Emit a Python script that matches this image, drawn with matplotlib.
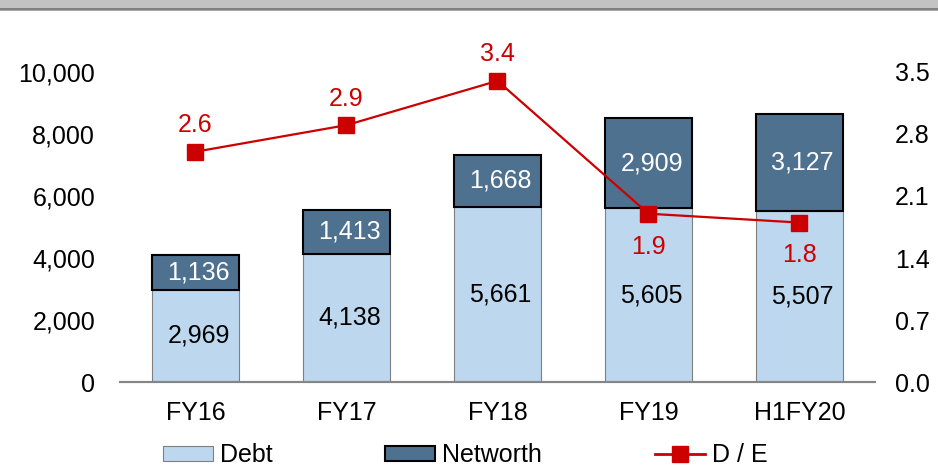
import matplotlib
matplotlib.use("Agg")
import matplotlib.pyplot as plt
from matplotlib.patches import Rectangle
from matplotlib.lines import Line2D
import numpy as np

plt.rcParams['font.family'] = ['Liberation Sans', 'DejaVu Sans']

categories = ["FY16", "FY17", "FY18", "FY19", "H1FY20"]
debt = [2969, 4138, 5661, 5605, 5507]
networth = [1136, 1413, 1668, 2909, 3127]
de_ratio = [2.6, 2.9, 3.4, 1.9, 1.8]
left_ticks = [0, 2000, 4000, 6000, 8000, 10000]
right_ticks = [0.0, 0.7, 1.4, 2.1, 2.8, 3.5]

W, H = 938, 468
fig = plt.figure(figsize=(W / 100, H / 100), dpi=100)

# top grey band
fig.patches.append(Rectangle((0, 1 - 8 / H), 1, 8 / H, transform=fig.transFigure,
                             facecolor='#C3C3C3', edgecolor='none', zorder=0))
fig.patches.append(Rectangle((0, 1 - 10 / H), 1, 2 / H, transform=fig.transFigure,
                             facecolor='#808080', edgecolor='none', zorder=0))
fig.patches.append(Rectangle((0, 1 - 11 / H), 1, 1 / H, transform=fig.transFigure,
                             facecolor='#A8A8A8', edgecolor='none', zorder=0))

ax_left, ax_right = 120 / W, 875 / W
ax_bottom, ax_top = 1 - 382 / H, 1 - 72 / H
ax = fig.add_axes([ax_left, ax_bottom, ax_right - ax_left, ax_top - ax_bottom])
ax2 = ax.twinx()

x = np.arange(len(categories))
bw = 0.57
debt_color = '#BDD7EE'
nw_color = '#4F7190'
red = '#CC0000'
fs = 18

ax.bar(x, debt, bw, color=debt_color, edgecolor='#7F7F7F', linewidth=0.8, zorder=2)
ax.bar(x, networth, bw, bottom=debt, color=nw_color, edgecolor='black', linewidth=1.5, zorder=3)

for i in range(len(x)):
    ax.text(x[i] + 0.02, debt[i] / 2, f"{debt[i]:,}", ha='center', va='center',
            fontsize=fs, color='black', zorder=5)
    ax.text(x[i] + 0.02, debt[i] + networth[i] / 2, f"{networth[i]:,}", ha='center',
            va='center', fontsize=fs, color='white', zorder=5)

ax.set_xlim(-0.5, len(x) - 0.5)
ax.set_ylim(0, 10000)
ax.set_yticks(left_ticks)
ax.set_yticklabels([f"{t:,}" for t in left_ticks])
ax.set_xticks(x)
ax.set_xticklabels(categories)

ax2.plot(x, de_ratio, color=red, linewidth=1.6, marker='s', markersize=11, zorder=6)
ax2.set_ylim(0, 3.5)
ax2.set_yticks(right_ticks)
ax2.set_yticklabels([f"{t:.1f}" for t in right_ticks])
for i in range(len(x)):
    if i < 3:
        ax2.annotate(f"{de_ratio[i]:.1f}", (x[i], de_ratio[i]), xytext=(0, 14),
                     textcoords='offset points', ha='center', va='baseline',
                     fontsize=fs, color=red)
    else:
        ax2.annotate(f"{de_ratio[i]:.1f}", (x[i], de_ratio[i]), xytext=(0, -15),
                     textcoords='offset points', ha='center', va='top',
                     fontsize=fs, color=red)

for a in (ax, ax2):
    for s in ('top', 'left', 'right'):
        a.spines[s].set_visible(False)
    a.spines['bottom'].set_color('#868686')
    a.spines['bottom'].set_linewidth(1.5)
    a.tick_params(length=0, labelsize=fs)
ax.tick_params(axis='y', pad=18)
ax2.tick_params(axis='y', pad=14.5)
ax.tick_params(axis='x', pad=14)
ax.set_zorder(ax2.get_zorder() - 1)
ax2.patch.set_visible(False)
ax.patch.set_visible(False)

handles = [Rectangle((0, 0), 1, 1, facecolor=debt_color, edgecolor='#7F7F7F', linewidth=0.8),
           Rectangle((0, 0), 1, 1, facecolor=nw_color, edgecolor='black', linewidth=1.5),
           Line2D([0], [0], color=red, linewidth=2, marker='s', markersize=11)]
fig.legend(handles, ["Debt", "Networth", "D / E"], loc='center',
           bbox_to_anchor=(0.496, 1 - 455 / H), ncol=3, frameon=False, fontsize=fs,
           handlelength=2.0, handleheight=0.56, handletextpad=0.28, columnspacing=4.5,
           borderpad=0)

fig.savefig("out.png", dpi=100)
